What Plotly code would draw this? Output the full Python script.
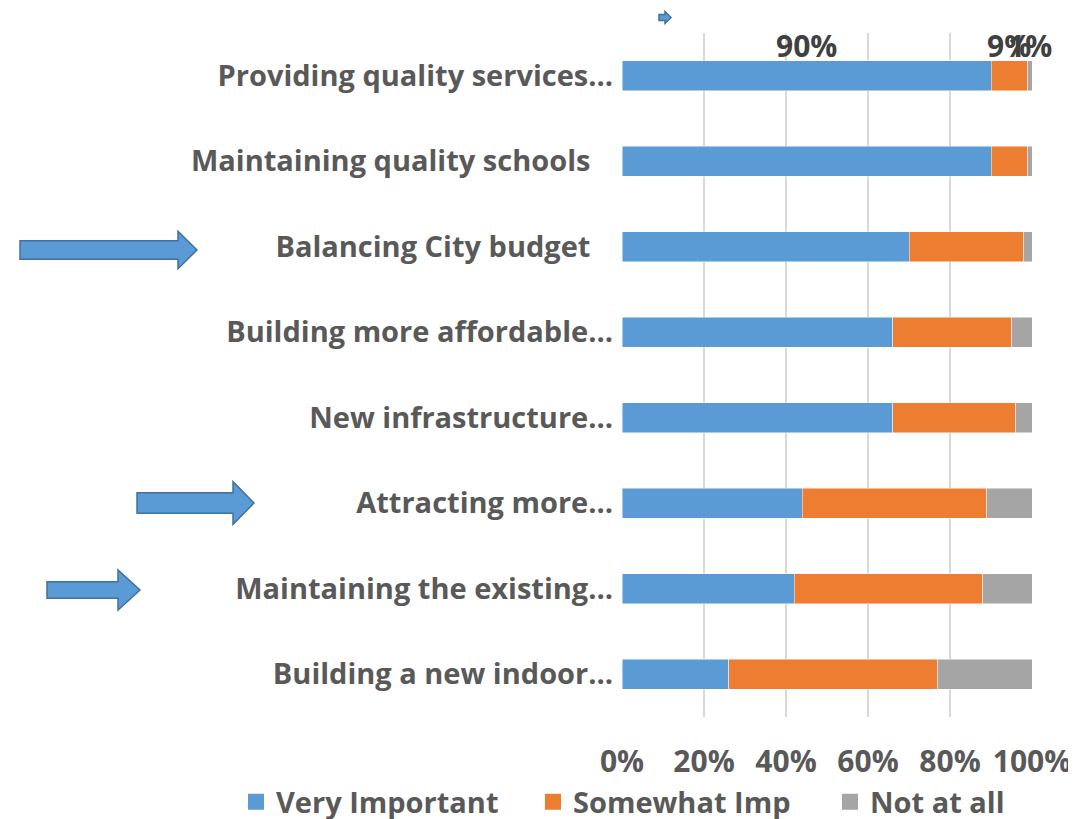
import plotly.graph_objects as go

NB = "\u00a0"
categories = [
    "Providing quality services…",
    "Maintaining quality schools" + NB * 3,
    "Balancing City budget" + NB * 3,
    "Building more affordable…",
    "New infrastructure…",
    "Attracting more…",
    "Maintaining the existing…",
    "Building a new indoor…",
]
very_important = [90, 90, 70, 66, 66, 44, 42, 26]
somewhat_imp = [9, 9, 28, 29, 30, 45, 46, 51]
not_at_all = [1, 1, 2, 5, 4, 11, 12, 23]
series_names = ["Very Important", "Somewhat Imp", "Not at all"]
series_colors = ["#5b9bd5", "#ed7d31", "#a5a5a5"]
tick_vals = [0, 20, 40, 60, 80, 100]
tick_text = ["0%", "20%", "40%", "60%", "80%", "100%"]

OFF = 8  # page body margin
W, H = 1076 - OFF, 819 - OFF
# plot area in screen pixels: x 622..1032, y 33..717
L, R, T, B = 622 - OFF, 1076 - 1032, 33 - OFF, 819 - 717
PW, PH = W - L - R, H - T - B

FONT = "Open Sans"
TXT = "#595959"

fig = go.Figure()
series = [very_important, somewhat_imp, not_at_all]
for name, vals, col in zip(series_names, series, series_colors):
    fig.add_trace(go.Bar(
        y=categories, x=vals, name=name, orientation="h",
        marker=dict(color=col, line=dict(color="rgba(255,255,255,0.6)", width=0.8)),
        width=0.35, showlegend=False,
    ))
# legend proxies (square markers)
for name, col in zip(series_names, series_colors):
    fig.add_trace(go.Scatter(
        x=[None], y=[None], mode="markers", name=name,
        marker=dict(symbol="square", size=20, color=col),
    ))

# data labels on first row only
base = 0
for vals in series:
    v = vals[0]
    fig.add_annotation(
        x=base + v / 2, y=categories[0], text=f"{v}%", showarrow=False,
        yshift=30, font=dict(family=FONT, size=30, color="#404040", weight="bold"),
    )
    base += v


def px2paper(px, py):
    # screen pixel -> paper fraction
    return (px - OFF - L) / PW, (H - B - (py - OFF)) / PH


def arrow_path(x0, tip, cy, sh, hh, hs):
    pts = [(x0, cy - sh), (hs, cy - sh), (hs, cy - hh), (tip, cy),
           (hs, cy + hh), (hs, cy + sh), (x0, cy + sh)]
    conv = [px2paper(a, b) for a, b in pts]
    return "M" + " L".join(f"{a:.5f},{b:.5f}" for a, b in conv) + " Z"


arrows = [
    (20, 197, 250, 9.3, 18.7, 178),
    (137, 254, 503, 10.3, 21.3, 233),
    (47, 140, 590, 8.3, 20, 118),
    (659, 671, 17.5, 3, 6, 665),
]
for a in arrows:
    fig.add_shape(type="path", xref="paper", yref="paper", path=arrow_path(*a),
                  fillcolor="#5b9bd5", line=dict(color="#41719c", width=1.5))

lx, ly = px2paper(236, 802)
fig.update_layout(
    width=W, height=H,
    margin=dict(l=L, r=R, t=T, b=B, autoexpand=False),
    barmode="stack",
    plot_bgcolor="white", paper_bgcolor="white",
    font=dict(family=FONT, color=TXT),
    xaxis=dict(
        range=[0, 100], tickvals=tick_vals, ticktext=tick_text,
        showgrid=True, gridcolor="#d9d9d9", gridwidth=2, zeroline=False,
        tickfont=dict(family=FONT, size=30, color=TXT, weight="bold"),
        ticklabelstandoff=24, fixedrange=True,
    ),
    yaxis=dict(
        autorange="reversed", showgrid=False, zeroline=False,
        tickfont=dict(family=FONT, size=29, color=TXT, weight="bold"),
        ticklabelstandoff=8,
    ),
    legend=dict(
        orientation="h", x=lx, xanchor="left", y=ly, yanchor="middle",
        traceorder="normal",
        font=dict(family=FONT, size=29, color=TXT, weight="bold"),
        entrywidth=252, bgcolor="rgba(0,0,0,0)",
    ),
)

fig.write_html("out.html")
